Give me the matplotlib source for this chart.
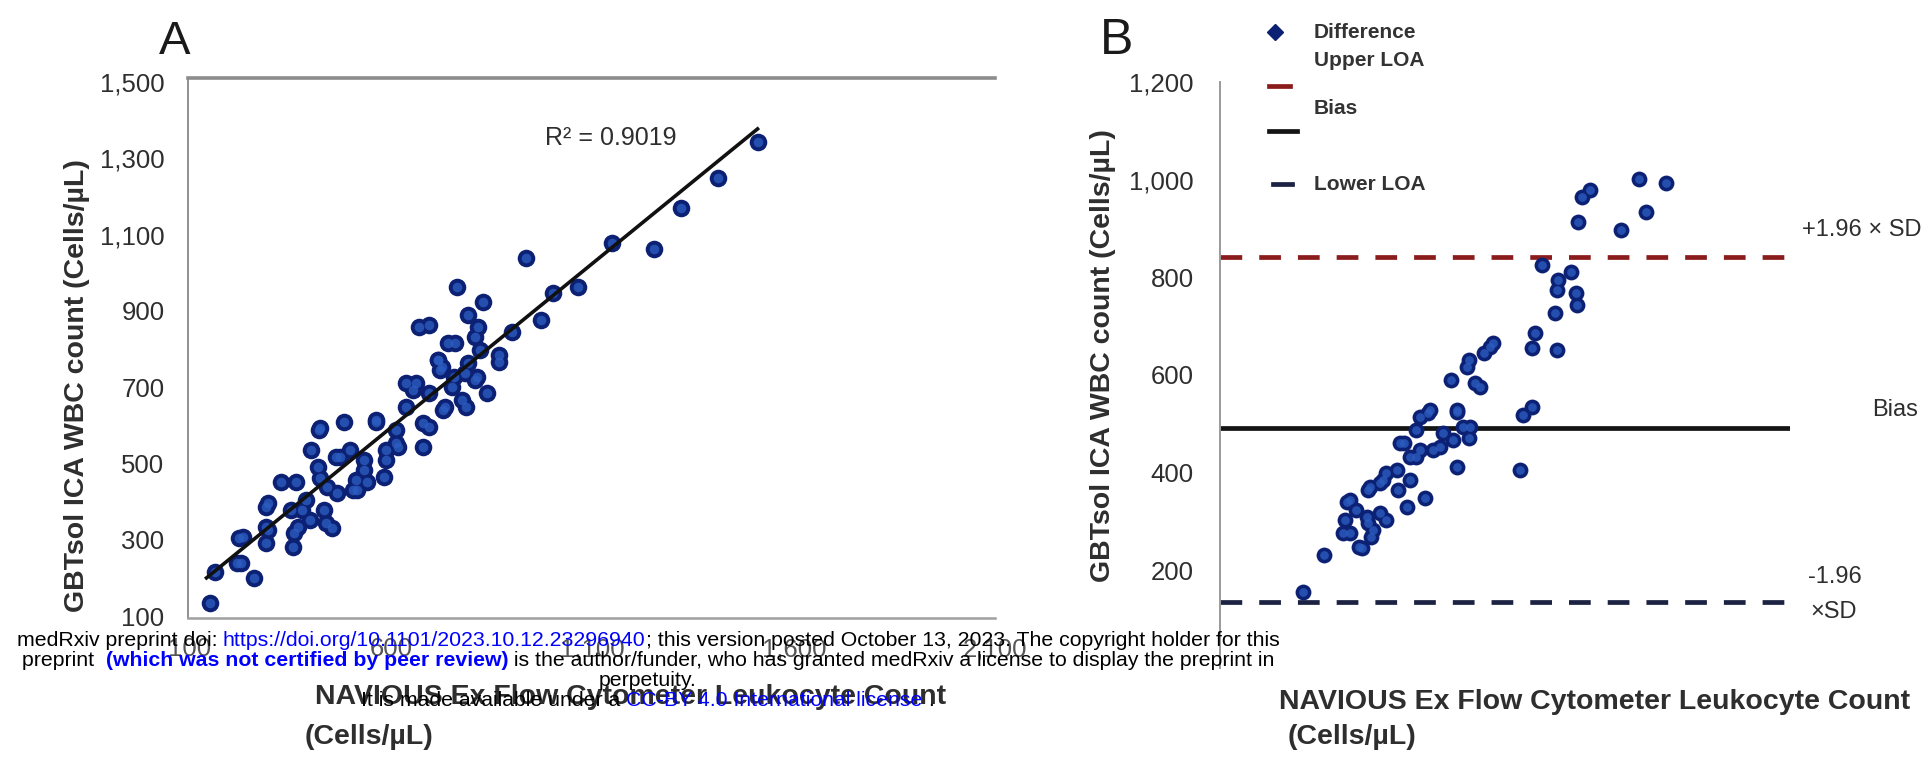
import numpy as np
import matplotlib
matplotlib.use("Agg")
import matplotlib.pyplot as plt
from matplotlib.lines import Line2D


# =====================================================
# DATA
# =====================================================

# Panel A: NAVIOUS count vs GBTsol ICA count (cells/uL)
navious_a = [
    149, 161, 222, 227, 259, 290, 288, 290, 327, 363, 351, 356, 368, 398,
    388, 400, 417, 424, 437, 454, 441, 466, 424, 483, 473, 498, 515, 532,
    539, 563, 583, 588, 612, 612, 637, 654, 678, 693, 678, 693, 717, 734,
    751, 776, 783, 790, 807, 839, 759, 727, 661, 763, 827, 790, 668, 693,
    815, 807, 1510, 1412, 1320, 1254, 1149, 1063, 1002, 934, 971, 900, 868,
    868, 820, 741, 715, 722, 756, 812, 637, 785, 729, 617, 588, 420, 561,
    463, 532, 512, 505, 295, 378, 434, 359, 295, 232, 217
]
gbtsol_a = [
    134, 215, 305, 239, 200, 386, 333, 291, 451, 451, 378, 281, 333, 352,
    404, 535, 491, 593, 344, 331, 438, 422, 462, 609, 517, 535, 430, 509,
    451, 614, 464, 535, 554, 588, 648, 693, 606, 685, 543, 596, 771, 648,
    700, 666, 737, 763, 719, 685, 816, 753, 711, 963, 923, 889, 858, 863,
    858, 832, 1343, 1248, 1170, 1062, 1078, 963, 947, 1039, 876, 845, 784,
    766, 797, 816, 771, 745, 727, 727, 711, 648, 640, 543, 509, 588, 609,
    517, 483, 457, 430, 396, 378, 378, 318, 325, 307, 239
]
r_squared = 0.9019

# Panel B: Bland-Altman style plot
navious_b = [
    882, 939, 897, 844, 779, 762, 754, 678, 739, 712, 709, 749, 752, 705,
    663, 657, 709, 575, 556, 524, 486, 537, 657, 638, 499, 438, 413, 512,
    524, 387, 463, 413, 499, 632, 349, 337, 400, 312, 375, 432, 394, 274,
    286, 337, 263, 312, 349, 274, 318, 293, 219, 175, 267, 259, 299, 322,
    343, 316, 373, 400, 379, 421, 442, 469, 491, 526, 499, 520, 547, 568,
    448, 421, 309
]
difference_b = [
    1001, 993, 934, 897, 979, 965, 913, 825, 811, 795, 774, 768, 743, 727,
    686, 655, 651, 666, 645, 631, 590, 584, 534, 518, 524, 522, 487, 494,
    471, 461, 453, 432, 412, 405, 399, 379, 385, 365, 365, 348, 330, 344,
    324, 317, 303, 297, 303, 276, 268, 248, 231, 156, 340, 276, 246, 283,
    385, 371, 405, 432, 461, 514, 528, 481, 467, 494, 528, 616, 575, 657,
    446, 446, 309
]
upper_loa = 842
bias = 491
lower_loa = 135

a_yticks = [100, 300, 500, 700, 900, 1100, 1300, 1500]
a_xticks = [100, 600, 1100, 1600, 2100]
b_yticks = [200, 400, 600, 800, 1000, 1200]


# =====================================================
# STYLE
# =====================================================

W, H = 1932, 757
SANS = ["Liberation Sans", "DejaVu Sans"]
TXT = "#2e2e2e"
DOT_DARK = "#0c2174"
DOT_LIGHT = "#2d5fc4"


def fx(px):
    return px / W


def fy(py):
    return 1 - py / H


plt.rcParams["font.family"] = SANS

fig = plt.figure(figsize=(W / 100, H / 100), dpi=100)


def dots(ax, x, y, size):
    ax.scatter(x, y, s=size, color=DOT_DARK, linewidths=0, zorder=3)
    ax.scatter(x, y, s=size * 0.3, color=DOT_LIGHT, alpha=0.75,
               linewidths=0, zorder=4)


# =====================================================
# PANEL A
# =====================================================

axA = fig.add_axes([fx(188), fy(618), (995 - 188) / W, (618 - 78) / H])
axA.set_xlim(95, 2063)
axA.set_ylim(94.8, 1510.6)

dots(axA, navious_a, gbtsol_a, 160)

xa = np.array(navious_a)
slope, intercept = np.polyfit(xa, np.array(gbtsol_a), 1)
fit_x = np.array([xa.min() - 8, xa.max()])
axA.plot(fit_x, slope * fit_x + intercept, color="#111111", lw=2.6, zorder=5)

fig.text(fx(545), fy(138), f"R² = {r_squared:.4f}", fontsize=18,
         color=TXT, va="center")

axA.spines["right"].set_visible(False)
axA.spines["top"].set_color("#8c8c8c")
axA.spines["top"].set_linewidth(2.6)
axA.spines["left"].set_color("#909090")
axA.spines["left"].set_linewidth(1.4)
axA.spines["bottom"].set_color("#a0a0a0")
axA.spines["bottom"].set_linewidth(1.8)

axA.set_yticks(a_yticks)
axA.set_yticklabels([f"{v:,}" for v in a_yticks])
axA.set_xticks(a_xticks)
axA.set_xticklabels([f"{v:,}" for v in a_xticks])
axA.tick_params(axis="y", length=0, pad=17, labelsize=18.5, labelcolor=TXT)
axA.tick_params(axis="x", length=0, pad=14, labelsize=18.5,
                labelcolor="#555555")

fig.text(fx(175), fy(42), "A", fontsize=34, color="#1a1a1a",
         ha="center", va="center")
fig.text(fx(77), fy(386), "GBTsol ICA WBC count (Cells/µL)", rotation=90,
         fontsize=20.5, fontweight="bold", color=TXT,
         ha="center", va="center")
fig.text(fx(315), fy(697), "NAVIOUS Ex Flow Cytometer Leukocyte Count",
         fontsize=20.5, fontweight="bold", color=TXT, va="center")
fig.text(fx(305), fy(737), "(Cells/µL)", fontsize=20.5, fontweight="bold",
         color=TXT, va="center")


# =====================================================
# PANEL B
# =====================================================

axB = fig.add_axes([fx(1220), fy(668), (1790 - 1220) / W, (668 - 82) / H])
axB.set_xlim(0, 1200)
axB.set_ylim(0, 1200)

axB.axhline(upper_loa, color="#8b1c1c", lw=3.4, dashes=(4.6, 3.6), zorder=2)
axB.axhline(bias, color="#141414", lw=3.4, zorder=2)
axB.axhline(lower_loa, color="#1b2242", lw=3.4, dashes=(4.6, 3.6), zorder=2)

dots(axB, navious_b, difference_b, 130)

for side in ["top", "right", "bottom"]:
    axB.spines[side].set_visible(False)
axB.spines["left"].set_color("#9a9a9a")
axB.spines["left"].set_linewidth(1.4)

axB.set_xticks([])
axB.set_yticks(b_yticks)
axB.set_yticklabels([f"{v:,}" for v in b_yticks])
axB.tick_params(axis="y", length=0, pad=19, labelsize=18.5, labelcolor=TXT)

fig.text(fx(1117), fy(41), "B", fontsize=36, color="#1a1a1a",
         ha="center", va="center")
fig.text(fx(1103), fy(356), "GBTsol ICA WBC count (Cells/µL)", rotation=90,
         fontsize=20.5, fontweight="bold", color=TXT,
         ha="center", va="center")
fig.text(fx(1279), fy(702), "NAVIOUS Ex Flow Cytometer Leukocyte Count",
         fontsize=20.5, fontweight="bold", color=TXT, va="center")
fig.text(fx(1288), fy(737), "(Cells/µL)", fontsize=20.5, fontweight="bold",
         color=TXT, va="center")

# right-hand labels
fig.text(fx(1802), fy(230), "+1.96 × SD", fontsize=17, color=TXT,
         va="center")
fig.text(fx(1872), fy(410), "Bias", fontsize=17, color=TXT, va="center")
fig.text(fx(1808), fy(577), "-1.96", fontsize=17, color=TXT, va="center")
fig.text(fx(1810), fy(612), "×SD", fontsize=17, color=TXT, va="center")

# legend (Excel style, keys and texts out of step)
fig.add_artist(Line2D([fx(1275)], [fy(32)], marker="D", markersize=8,
                      color=DOT_DARK, transform=fig.transFigure))
fig.add_artist(Line2D([fx(1269), fx(1290)], [fy(86), fy(86)],
                      color="#8b1c1c", lw=3.4, transform=fig.transFigure))
fig.add_artist(Line2D([fx(1269), fx(1297)], [fy(131), fy(131)],
                      color="#141414", lw=3.4, transform=fig.transFigure))
fig.add_artist(Line2D([fx(1273), fx(1292)], [fy(184), fy(184)],
                      color="#1b2242", lw=3.4, transform=fig.transFigure))
for label, ly in [("Difference", 32), ("Upper LOA", 60), ("Bias", 108),
                  ("Lower LOA", 185)]:
    fig.text(fx(1314), fy(ly), label, fontsize=15, fontweight="bold",
             color="#333333", va="center")


# =====================================================
# MEDRXIV WATERMARK
# =====================================================

BLUE = "#0000ff"
watermark = [
    (640, [("medRxiv preprint doi: ", "black", "normal"),
           ("https://doi.org/10.1101/2023.10.12.23296940", BLUE, "normal"),
           ("; this version posted October 13, 2023. The copyright holder "
            "for this", "black", "normal")]),
    (660, [("preprint  ", "black", "normal"),
           ("(which was not certified by peer review)", BLUE, "bold"),
           (" is the author/funder, who has granted medRxiv a license to "
            "display the preprint in", "black", "normal")]),
    (681, [("perpetuity.", "black", "normal")]),
    (701, [("It is made available under a ", "black", "normal"),
           ("CC-BY 4.0 International license", BLUE, "normal"),
           (" .", "black", "normal")]),
]

renderer = fig.canvas.get_renderer()
WM_SIZE = 15.3


def seg_width(s, weight):
    t = fig.text(0, 0, "x" + s + "x", fontsize=WM_SIZE, fontweight=weight)
    ref = fig.text(0, 0, "xx", fontsize=WM_SIZE, fontweight=weight)
    w = (t.get_window_extent(renderer).width
         - ref.get_window_extent(renderer).width)
    t.remove()
    ref.remove()
    return w


for ly, segments in watermark:
    widths = [seg_width(s, w) for s, _, w in segments]
    x = 648 - sum(widths) / 2
    for (s, c, w), wd in zip(segments, widths):
        fig.text(fx(x), fy(ly), s, fontsize=WM_SIZE, fontweight=w, color=c,
                 va="center", zorder=10)
        x += wd

fig.savefig("out.png", dpi=100)
